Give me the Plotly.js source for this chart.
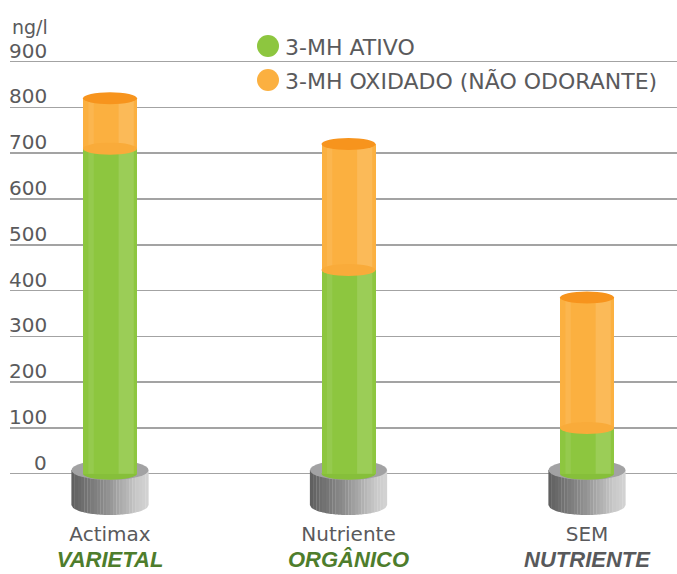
<!DOCTYPE html>
<html>
<head>
<meta charset="utf-8">
<script src="https://cdn.plot.ly/plotly-3.0.1.min.js"></script>
<style>html,body{margin:0;padding:0;background:#fff;}#chart{width:677px;height:574px;}</style>
</head>
<body>
<div id="chart"></div>
<script>
// ---- data ----
const categories = ['Actimax', 'Nutriente', 'SEM'];
const subLabels = ['VARIETAL', 'ORGÂNICO', 'NUTRIENTE'];
const ativo = [710, 445, 100];      // 3-MH ATIVO (ng/l)
const oxidado = [110, 275, 285];    // 3-MH OXIDADO (NÃO ODORANTE) (ng/l)
const seriesNames = ['3-MH ATIVO', '3-MH OXIDADO (NÃO ODORANTE)'];
const yTicks = [0, 100, 200, 300, 400, 500, 600, 700, 800, 900];
const yUnit = 'ng/l';

// ---- style ----
const FONT = 'DejaVu Sans, Liberation Sans, sans-serif';
const TXT = '#5a5a5c';
const GREEN = '#8dc63f';
const ORANGE = '#fbb040';
const ORANGE_TOP = '#f7941d';
const seriesColors = [GREEN, ORANGE];
const subColors = ['#4e7d2c', '#4e7d2c', '#58595b'];

const W = 677, H = 574;
const mL = 10, mR = 0, mT = 0, mB = 54;
const plotW = W - mL - mR, plotH = H - mT - mB;
const xr = [-0.4193, 2.3773];
const yr = [-101.1, 1034.7];
const pxX = plotW / (xr[1] - xr[0]);   // px per x unit
const pxY = plotH / (yr[1] - yr[0]);   // px per y unit
const barW = 54 / pxX;
const capRy = 6 / pxY;
const pedRx = 38.5 / pxX;
const pedRy = 10 / pxY;
const pedTop = 8;      // y of pedestal top ellipse centre (data units)
const pedBot = -68.4;  // y of pedestal bottom ellipse centre

const xs = categories.map((c, i) => i);
const totals = ativo.map((v, i) => v + oxidado[i]);

function ellipse(xc, yc, rx, ry, color, layer) {
  return {type: 'circle', xref: 'x', yref: 'y', x0: xc - rx, x1: xc + rx, y0: yc - ry, y1: yc + ry,
          fillcolor: color, line: {width: 0}, layer: layer};
}
function lerp(a, b, t) { return Math.round(a + (b - a) * t); }
function grayAt(t) {
  const stops = [[0, 0x5e], [0.45, 0x8e], [0.85, 0xc9], [1, 0xd4]];
  for (let k = 0; k < stops.length - 1; k++) {
    if (t <= stops[k + 1][0]) {
      const u = (t - stops[k][0]) / (stops[k + 1][0] - stops[k][0]);
      const g = lerp(stops[k][1], stops[k + 1][1], u);
      return 'rgb(' + g + ',' + g + ',' + g + ')';
    }
  }
  return '#d4d4d4';
}

const shapes = [];
xs.forEach(function (xc) {
  const N = 24;
  for (let k = 0; k < N; k++) {
    const xa = xc - pedRx + (2 * pedRx) * k / N;
    const xb = xc - pedRx + (2 * pedRx) * (k + 1) / N;
    const yb = function (x) {
      const u = (x - xc) / pedRx;
      return pedBot - pedRy * Math.sqrt(Math.max(0, 1 - u * u));
    };
    const xm = (xa + xb) / 2;
    const path = 'M' + (xa - 0.0005) + ',' + pedTop + ' L' + (xb + 0.0005) + ',' + pedTop +
      ' L' + (xb + 0.0005) + ',' + yb(xb) + ' L' + xm + ',' + yb(xm) + ' L' + (xa - 0.0005) + ',' + yb(xa) + ' Z';
    shapes.push({type: 'path', xref: 'x', yref: 'y', path: path, fillcolor: grayAt((k + 0.5) / N),
                 line: {width: 0}, layer: 'between'});
  }
  shapes.push(ellipse(xc, pedTop, pedRx, pedRy, '#a2a2a3', 'between'));
  shapes.push(ellipse(xc, 0, barW / 2, capRy, '#86bf3a', 'between'));
});

xs.forEach(function (xc, i) {
  shapes.push({type: 'rect', xref: 'x', yref: 'y', x0: xc + barW * 0.16, x1: xc + barW * 0.44,
               y0: 0, y1: totals[i], fillcolor: 'rgba(255,255,255,0.13)', line: {width: 0}, layer: 'above'});
  shapes.push({type: 'rect', xref: 'x', yref: 'y', x0: xc - barW * 0.40, x1: xc - barW * 0.30,
               y0: 0, y1: totals[i], fillcolor: 'rgba(255,255,255,0.08)', line: {width: 0}, layer: 'above'});
  shapes.push(ellipse(xc, ativo[i], barW / 2, capRy, '#f9ab3a', 'above'));
  shapes.push(ellipse(xc, totals[i], barW / 2, capRy, ORANGE_TOP, 'above'));
});

// legend (manual, so the dots can be as large as in the reference)
const legendX = 268, legendY = [46, 80];
seriesNames.forEach(function (n, i) {
  shapes.push({type: 'circle', xref: 'paper', yref: 'paper', xsizemode: 'pixel', ysizemode: 'pixel',
               xanchor: (legendX - mL) / plotW, yanchor: 1 - (legendY[i] - mT) / plotH,
               x0: -11, x1: 11, y0: -11, y1: 11, fillcolor: seriesColors[i], line: {width: 0}, layer: 'above'});
});

const ticktext = categories.map(function (c, i) {
  return c + '<br><span style="font-family:\'Liberation Sans Narrow\', \'Liberation Sans\', sans-serif;' +
    'font-weight:bold;font-style:italic;font-size:22px;color:' + subColors[i] + '">' + subLabels[i] + '</span>';
});

const annotations = yTicks.map(function (v) {
  return {xref: 'paper', yref: 'y', x: (49 - mL) / plotW, y: v, xanchor: 'right', yanchor: 'bottom',
          text: String(v), showarrow: false, yshift: -3, font: {family: FONT, size: 20, color: TXT}};
});
annotations.push({xref: 'paper', yref: 'paper', x: (50 - mL) / plotW, y: 1 - 27 / plotH, xanchor: 'right',
                  yanchor: 'middle', text: yUnit, showarrow: false, font: {family: FONT, size: 19, color: TXT}});
seriesNames.forEach(function (n, i) {
  annotations.push({xref: 'paper', yref: 'paper', x: (283 - mL) / plotW, y: 1 - (legendY[i] + 1 - mT) / plotH,
                    xanchor: 'left', yanchor: 'middle', text: n, showarrow: false,
                    font: {family: FONT, size: 22, color: TXT}});
});

const traces = [
  {type: 'bar', x: xs, y: ativo, width: barW, marker: {color: GREEN, line: {width: 0}},
   hoverinfo: 'skip', name: seriesNames[0]},
  {type: 'bar', x: xs, y: oxidado, width: barW, marker: {color: ORANGE, line: {width: 0}},
   hoverinfo: 'skip', name: seriesNames[1]}
];

const layout = {
  width: W, height: H,
  margin: {l: mL, r: mR, t: mT, b: mB, pad: 0},
  paper_bgcolor: '#ffffff', plot_bgcolor: '#ffffff',
  barmode: 'stack',
  font: {family: FONT, color: TXT},
  xaxis: {range: xr, tickvals: xs, ticktext: ticktext, showgrid: false, zeroline: false, showline: false,
          ticks: '', ticklen: 0, ticklabelstandoff: 0, tickfont: {family: FONT, size: 20, color: TXT}, fixedrange: true},
  yaxis: {range: yr, tickvals: yTicks, showticklabels: false, showgrid: true, gridcolor: '#a3a3a3',
          gridwidth: 1.5, zeroline: false, showline: false, ticks: '', fixedrange: true},
  showlegend: false,
  shapes: shapes,
  annotations: annotations
};

Plotly.newPlot('chart', traces, layout, {displayModeBar: false, staticPlot: true});
</script>
</body>
</html>
